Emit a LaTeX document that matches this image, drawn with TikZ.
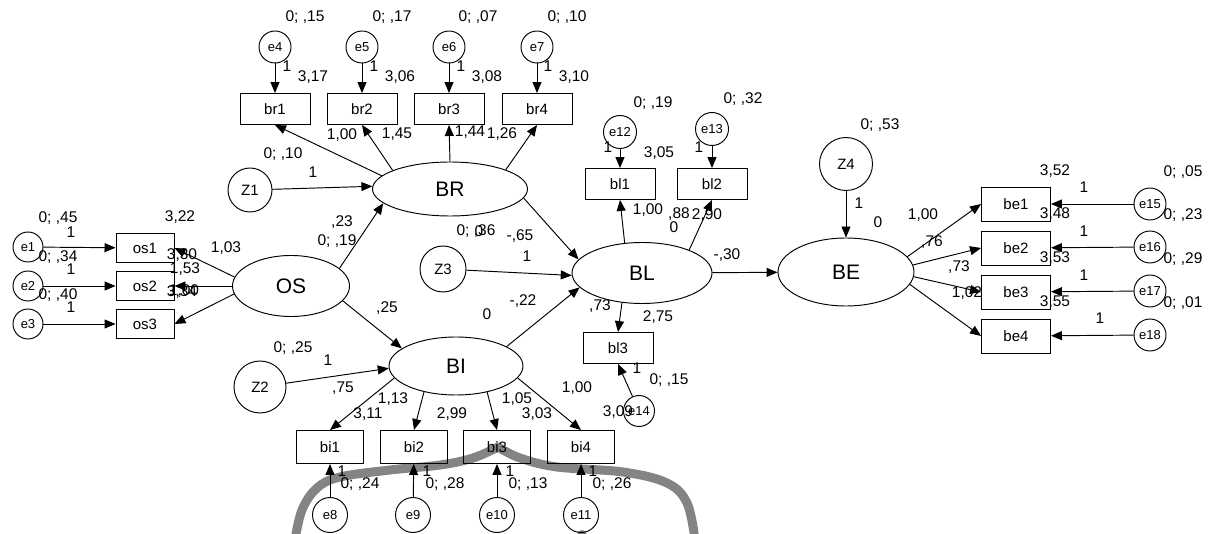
\documentclass[tikz,border=0pt]{standalone}
\usepackage{fontspec}
\setmainfont{Liberation Sans}
\usepackage{xcolor}
\usepackage{tikz}
\usetikzlibrary{arrows.meta}
\usetikzlibrary{shapes.geometric}
\definecolor{penmark}{RGB}{132,132,132}
\tikzset{
    latent/.style={draw, ellipse, line width=0.95pt, inner sep=0pt, font=\fontsize{21}{21}\selectfont},
    observed/.style={draw, rectangle, line width=0.95pt, inner sep=0pt, minimum width=70pt, minimum height=31pt, font=\fontsize{15}{15}\selectfont},
    errcirc/.style={draw, circle, line width=0.95pt, inner sep=0pt, minimum size=32pt, font=\fontsize{13}{13}\selectfont},
    resid/.style={draw, circle, line width=0.95pt, inner sep=0pt, font=\fontsize{15}{15}\selectfont},
    est/.style={inner sep=0pt, font=\fontsize{15.5}{15.5}\selectfont},
    arrowline/.style={line width=0.95pt, -{Triangle[length=11pt,width=9pt]}}
}

\begin{document}
\begin{tikzpicture}[x=1pt, y=-1pt]
    \useasboundingbox (0,0) rectangle (1221,534);
    % pen mark on the scan
    \draw[penmark, line width=9pt, line cap=round, line join=round] plot[smooth, tension=0.6] coordinates {(295,540) (302,510) (317,488) (340,477) (390,470) (440,465) (473,458) (498,447)};
    \draw[penmark, line width=9pt, line cap=round, line join=round] plot[smooth, tension=0.6] coordinates {(498,447) (520,458) (557,467) (623,472) (667,483) (687,503) (695,540)};
    \fill[penmark] (582,535) circle (5);

    \node[latent, minimum width=155pt, minimum height=54pt] (BR) at (450,189) {BR};
    \node[latent, minimum width=117pt, minimum height=61pt] (OS) at (291,286) {OS};
    \node[latent, minimum width=134pt, minimum height=58pt] (BI) at (456,366) {BI};
    \node[latent, minimum width=140pt, minimum height=61pt] (BL) at (642,273) {BL};
    \node[latent, minimum width=136pt, minimum height=68pt] (BE) at (846,272) {BE};

    \node[resid, minimum size=44pt] (Z1) at (250,190) {Z1};
    \node[resid, minimum size=52pt] (Z2) at (260,387) {Z2};
    \node[resid, minimum size=46pt] (Z3) at (443,269) {Z3};
    \node[resid, minimum size=53pt] (Z4) at (846,164) {Z4};

    \node[observed] (br1) at (275,109) {br1};
    \node[observed] (br2) at (362,109) {br2};
    \node[observed] (br3) at (449,109) {br3};
    \node[observed] (br4) at (537,109) {br4};
    \node[errcirc] (e4) at (275,47) {e4};
    \node[errcirc] (e5) at (362,47) {e5};
    \node[errcirc] (e6) at (449,47) {e6};
    \node[errcirc] (e7) at (537,47) {e7};

    \node[observed, minimum width=58pt, minimum height=29pt] (os1) at (145,248) {os1};
    \node[observed, minimum width=58pt, minimum height=29pt] (os2) at (145,286) {os2};
    \node[observed, minimum width=58pt, minimum height=29pt] (os3) at (145,324) {os3};
    \node[errcirc, minimum size=30pt] (e1) at (28,247) {e1};
    \node[errcirc, minimum size=30pt] (e2) at (28,286) {e2};
    \node[errcirc, minimum size=30pt] (e3) at (28,324) {e3};

    \node[observed] (bl1) at (620,184) {bl1};
    \node[observed] (bl2) at (712,184) {bl2};
    \node[observed] (bl3) at (618,348) {bl3};
    \node[errcirc, minimum size=33pt] (e12) at (620,132) {e12};
    \node[errcirc, minimum size=33pt] (e13) at (712,129) {e13};
    \node[errcirc, minimum size=31pt] (e14) at (639,411) {e14};

    \node[observed, minimum width=67pt, minimum height=33pt] (bi1) at (330,447) {bi1};
    \node[observed, minimum width=67pt, minimum height=33pt] (bi2) at (414,447) {bi2};
    \node[observed, minimum width=67pt, minimum height=33pt] (bi3) at (497,447) {bi3};
    \node[observed, minimum width=67pt, minimum height=33pt] (bi4) at (581,447) {bi4};
    \node[errcirc, minimum size=35pt] (e8) at (330,515) {e8};
    \node[errcirc, minimum size=35pt] (e9) at (413,515) {e9};
    \node[errcirc, minimum size=35pt] (e10) at (497,515) {e10};
    \node[errcirc, minimum size=35pt] (e11) at (581,515) {e11};

    \node[observed, minimum width=69pt, minimum height=34pt] (be1) at (1016,204) {be1};
    \node[observed, minimum width=69pt, minimum height=34pt] (be2) at (1016,248) {be2};
    \node[observed, minimum width=69pt, minimum height=34pt] (be3) at (1016,292) {be3};
    \node[observed, minimum width=69pt, minimum height=34pt] (be4) at (1016,336) {be4};
    \node[errcirc] (e15) at (1150,204) {e15};
    \node[errcirc] (e16) at (1150,247) {e16};
    \node[errcirc] (e17) at (1150,291) {e17};
    \node[errcirc] (e18) at (1150,335) {e18};

    % paths
    \draw[arrowline] (e4) -- (br1);
    \draw[arrowline] (e5) -- (br2);
    \draw[arrowline] (e6) -- (br3);
    \draw[arrowline] (e7) -- (br4);
    \draw[arrowline] (BR.169) -- (br1.south);
    \draw[arrowline] (BR.162) -- (br2.south);
    \draw[arrowline] (BR.north) -- (br3.south);
    \draw[arrowline] (BR.19) -- (br4.south);
    \draw[arrowline] (Z1) -- (BR.178);
    \draw[arrowline] (OS.20) -- (BR.192);
    \draw[arrowline] (OS.-16) -- (BI.162);
    \draw[arrowline] (OS.171) -- (os1.east);
    \draw[arrowline] (OS.west) -- (os2.east);
    \draw[arrowline] (OS.188) -- (os3.east);
    \draw[arrowline] (e1) -- (os1);
    \draw[arrowline] (e2) -- (os2);
    \draw[arrowline] (e3) -- (os3);
    \draw[arrowline] (BR.-7) -- (BL.168);
    \draw[arrowline] (Z3) -- (BL.182);
    \draw[arrowline] (BI.21) -- (BL.193);
    \draw[arrowline] (Z2) -- (BI.182);
    \draw[arrowline] (BI.191) -- (bi1.north);
    \draw[arrowline] (BI.219) -- (bi2.north);
    \draw[arrowline] (BI.-40) -- (bi3.north);
    \draw[arrowline] (BI.-11) -- (bi4.north);
    \draw[arrowline] (e8) -- (bi1);
    \draw[arrowline] (e9) -- (bi2);
    \draw[arrowline] (e10) -- (bi3);
    \draw[arrowline] (e11) -- (bi4);
    \draw[arrowline] (BL.120) -- (bl1.south);
    \draw[arrowline] (BL.26) -- (bl2.south);
    \draw[arrowline] (BL.236) -- (bl3.north);
    \draw[arrowline] (e12) -- (bl1);
    \draw[arrowline] (e13) -- (bl2);
    \draw[arrowline] (e14) -- (bl3.south);
    \draw[arrowline] (BL) -- (BE);
    \draw[arrowline] (Z4) -- (BE);
    \draw[arrowline] (BE.14) -- (be1.west);
    \draw[arrowline] (BE.6) -- (be2.west);
    \draw[arrowline] (BE.-4) -- (be3.west);
    \draw[arrowline] (BE.-11) -- (be4.west);
    \draw[arrowline] (e15) -- (be1);
    \draw[arrowline] (e16) -- (be2);
    \draw[arrowline] (e17) -- (be3);
    \draw[arrowline] (e18) -- (be4);

    % estimates
    \node[est] (v4) at (305,17) {0; ,15};
    \node[est] (v5) at (392,17) {0; ,17};
    \node[est] (v6) at (478,17) {0; ,07};
    \node[est] (v7) at (567,17) {0; ,10};
    \node[est] (f4) at (287,66) {1};
    \node[est] (f5) at (374,66) {1};
    \node[est] (f6) at (461,66) {1};
    \node[est] (f7) at (548,66) {1};
    \node[est] (mr1) at (313,77) {3,17};
    \node[est] (mr2) at (400,77) {3,06};
    \node[est] (mr3) at (487,77) {3,08};
    \node[est] (mr4) at (574,77) {3,10};
    \node[est] (lr1) at (342,135) {1,00};
    \node[est] (lr2) at (397,134) {1,45};
    \node[est] (lr3) at (470,132) {1,44};
    \node[est] (lr4) at (502,134) {1,26};
    \node[est] (vz1) at (283,154) {0; ,10};
    \node[est] (fz1) at (313,172) {1};

    \node[est] (v1) at (58,218) {0; ,45};
    \node[est] (f1) at (71,232) {1};
    \node[est] (v2) at (58,257) {0; ,34};
    \node[est] (f2) at (71,269) {1};
    \node[est] (v3) at (58,295) {0; ,40};
    \node[est] (f3) at (71,307) {1};
    \node[est] (mo1) at (180,217) {3,22};
    \node[est] (mo2) at (182,255) {3,30};
    \node[est] (lo2) at (185,269) {1,53};
    \node[est] (mo3) at (182,292) {3,34};
    \node[est] (lo3) at (184,291) {1,00};
    \node[est] (lo1) at (226,248) {1,03};
    \node[est] (wbr) at (342,222) {,23};
    \node[est] (vos) at (337,241) {0; ,19};
    \node[est] (vz2) at (293,348) {0; ,25};
    \node[est] (fz2) at (328,360) {1};
    \node[est] (wbi) at (387,308) {,25};

    \node[est] (vz3) at (476,231) {0; ,36};
    \node[est] (mbr) at (479,231) {0};
    \node[est] (wrl) at (520,236) {-,65};
    \node[est] (fz3) at (527,256) {1};
    \node[est] (wil) at (523,301) {-,22};
    \node[est] (mbi) at (487,314) {0};
    \node[est] (ll1) at (648,210) {1,00};
    \node[est] (ll2) at (679,214) {,88};
    \node[est] (mbl) at (674,227) {0};
    \node[est] (ml2) at (707,215) {2,90};
    \node[est] (ll3) at (600,306) {,73};
    \node[est] (ml3) at (658,317) {2,75};
    \node[est] (v12) at (653,103) {0; ,19};
    \node[est] (v13) at (743,99) {0; ,32};
    \node[est] (f12) at (608,147) {1};
    \node[est] (ml1) at (659,153) {3,05};
    \node[est] (f13) at (699,147) {1};
    \node[est] (wle) at (727,255) {-,30};
    \node[est] (f14) at (637,368) {1};
    \node[est] (v14) at (669,380) {0; ,15};

    \node[est] (wz2) at (343,388) {,75};
    \node[est] (li2) at (393,399) {1,13};
    \node[est] (mi1) at (368,414) {3,11};
    \node[est] (mi2) at (452,414) {2,99};
    \node[est] (li3) at (517,399) {1,05};
    \node[est] (mi3) at (537,414) {3,03};
    \node[est] (li4) at (577,388) {1,00};
    \node[est] (mi4) at (618,412) {3,09};
    \node[est] (f8) at (342,471) {1};
    \node[est] (v8) at (360,484) {0; ,24};
    \node[est] (f9) at (427,471) {1};
    \node[est] (v9) at (445,484) {0; ,28};
    \node[est] (f10) at (510,471) {1};
    \node[est] (v10) at (528,484) {0; ,13};
    \node[est] (f11) at (593,471) {1};
    \node[est] (v11) at (612,484) {0; ,26};

    \node[est] (vz4) at (880,125) {0; ,53};
    \node[est] (fz4) at (859,203) {1};
    \node[est] (mbe) at (878,222) {0};
    \node[est] (le1) at (923,215) {1,00};
    \node[est] (le2) at (932,242) {,76};
    \node[est] (le3) at (959,267) {,73};
    \node[est] (le4) at (967,293) {1,02};
    \node[est] (me1) at (1055,171) {3,52};
    \node[est] (v15) at (1183,172) {0; ,05};
    \node[est] (f15) at (1084,187) {1};
    \node[est] (me2) at (1055,214) {3,48};
    \node[est] (v16) at (1183,215) {0; ,23};
    \node[est] (f16) at (1084,231) {1};
    \node[est] (me3) at (1055,258) {3,53};
    \node[est] (v17) at (1183,259) {0; ,29};
    \node[est] (f17) at (1084,275) {1};
    \node[est] (me4) at (1055,302) {3,55};
    \node[est] (v18) at (1183,303) {0; ,01};
    \node[est] (f18) at (1100,318) {1};
\end{tikzpicture}
\end{document}
